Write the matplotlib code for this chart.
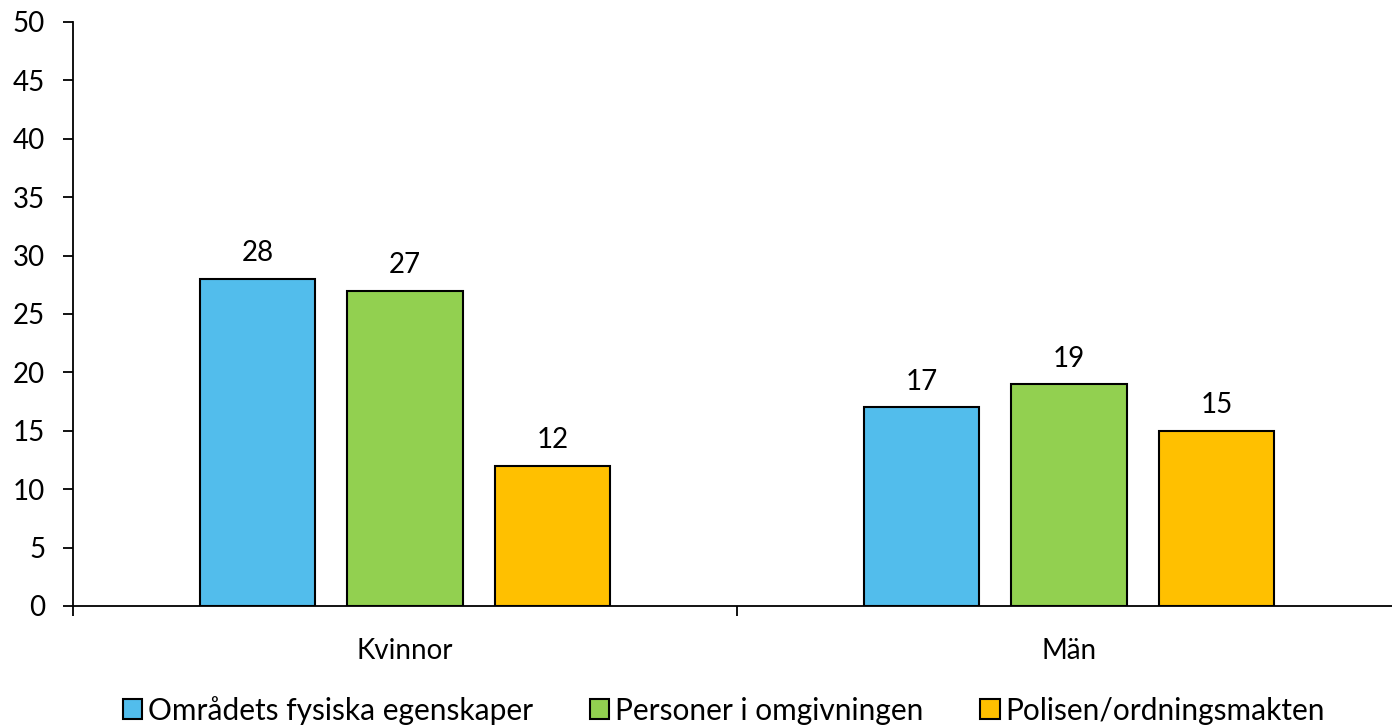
import matplotlib.pyplot as plt
from matplotlib.ticker import FixedLocator

groups = ["Kvinnor", "Män"]
series = ["Områdets fysiska egenskaper", "Personer i omgivningen", "Polisen/ordningsmakten"]
values = [
    [28, 17],
    [27, 19],
    [12, 15],
]
colors = ["#52BDEC", "#92D050", "#FFC000"]

plt.rcParams['font.family'] = ['Lato', 'DejaVu Sans']
FS = 20

fig = plt.figure(figsize=(13.92, 7.26), dpi=100)
ax = fig.add_axes([0.0524, 0.1653, 0.954, 0.8044])

width = 0.174
step = 0.222
x = range(len(groups))
for i, (name, vals, col) in enumerate(zip(series, values, colors)):
    pos = [g + (i - 1) * step for g in x]
    bars = ax.bar(pos, vals, width, color=col, edgecolor='black', linewidth=1.5, label=name)
    for b, v in zip(bars, vals):
        ax.annotate(str(v), (b.get_x() + b.get_width() / 2, v), xytext=(0, 9),
                    textcoords='offset points', ha='center', va='bottom', fontsize=FS)

ax.set_xlim(-0.5, 1.5)
ax.set_ylim(0, 50)
ax.set_yticks(range(0, 51, 5))
ax.tick_params(axis='y', labelsize=FS, length=7, width=1.3, direction='out', pad=13)

ax.xaxis.set_major_locator(FixedLocator([-0.5, 0.5, 1.5]))
ax.set_xticklabels([])
ax.xaxis.set_minor_locator(FixedLocator(list(x)))
ax.set_xticklabels(groups, minor=True)
ax.tick_params(axis='x', which='major', length=7, width=1.3)
ax.tick_params(axis='x', which='minor', length=0, labelsize=FS, pad=23)

for s in ['top', 'right']:
    ax.spines[s].set_visible(False)
ax.spines['left'].set_linewidth(1.3)
ax.spines['bottom'].set_linewidth(1.3)

fig.legend(loc='lower center', bbox_to_anchor=(0.52, -0.035), ncol=3, frameon=False,
           fontsize=21.5, handlelength=0.65, handleheight=0.65, handletextpad=0.2,
           columnspacing=1.9)

fig.savefig('out.png', dpi=100)
